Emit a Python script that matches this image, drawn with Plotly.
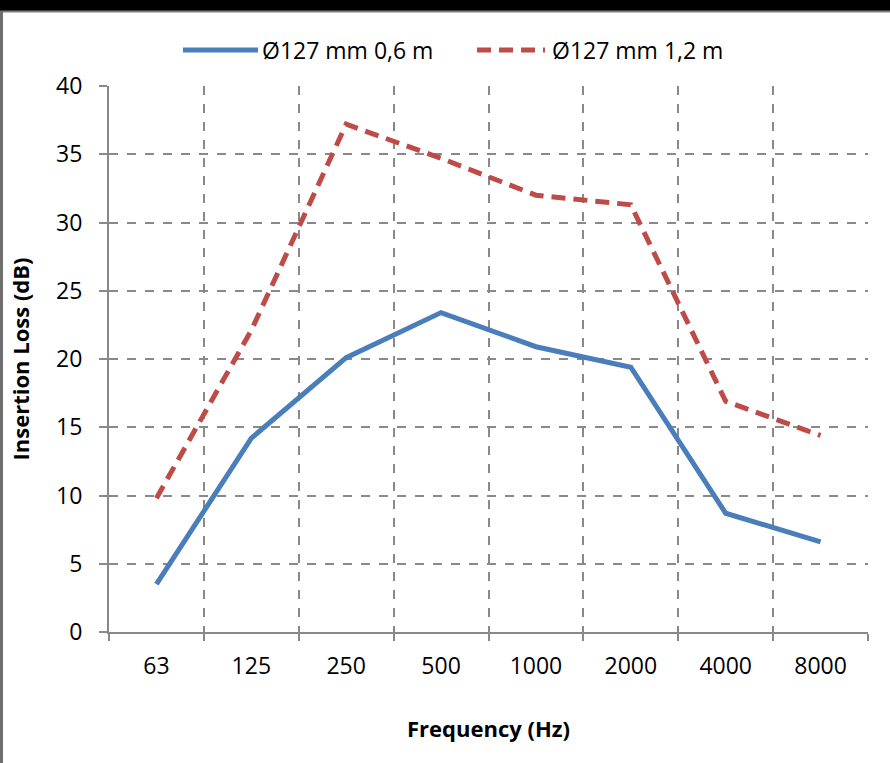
import plotly.graph_objects as go

# Frequency bands (Hz) and insertion loss (dB)
freqs = ["63", "125", "250", "500", "1000", "2000", "4000", "8000"]
loss_06 = [3.5, 14.2, 20.1, 23.4, 20.9, 19.4, 8.7, 6.6]
loss_12 = [9.8, 22.1, 37.2, 34.7, 32.0, 31.3, 16.9, 14.4]

names = ["Ø127 mm 0,6 m", "Ø127 mm 1,2 m"]
colors = ["#4A7EBB", "#BE4B48"]
dashes = ["solid", "14px,8px"]

W, H = 890, 763
L, R, T, B = 109, 22, 86, 131
pw, ph = W - L - R, H - T - B


def px(x):
    return (x - L) / pw


def py(y):
    return (H - B - y) / ph


font = "Open Sans"
grid = "#898989"

fig = go.Figure()
for vals, name, c, d in zip([loss_06, loss_12], names, colors, dashes):
    fig.add_trace(go.Scatter(x=freqs, y=vals, name=name, mode="lines",
                             line=dict(color=c, width=5, dash=d),
                             showlegend=False))

fig.update_xaxes(
    type="category", tickson="boundaries", showgrid=True, griddash="dash",
    gridcolor=grid, gridwidth=1.5, showline=True, linecolor=grid, linewidth=2,
    ticks="outside", ticklen=7, tickwidth=2, tickcolor=grid,
    tickfont=dict(family=font, size=23, color="black"), ticklabelstandoff=12,
    title=dict(text="<b>Frequency (Hz)</b>", standoff=42,
               font=dict(family=font, size=22, color="black")),
    range=[-0.5, 7.5], fixedrange=True,
)
fig.update_yaxes(
    range=[0, 40], dtick=5, showgrid=True, griddash="dash", gridcolor=grid,
    gridwidth=1.5, showline=True, linecolor=grid, linewidth=2, zeroline=False,
    ticks="outside", ticklen=8, tickwidth=2, tickcolor=grid,
    tickfont=dict(family=font, size=23, color="black"), ticklabelstandoff=12,
    title=dict(text="<b>Insertion Loss (dB)</b>", standoff=20,
               font=dict(family=font, size=22, color="black")),
)

shapes = [
    # black bar at the top of the frame
    dict(type="rect", xref="paper", yref="paper", x0=px(-5), x1=px(W + 5),
         y0=py(11), y1=py(-5), fillcolor="black", line=dict(width=0)),
    dict(type="line", xref="paper", yref="paper", x0=px(0), x1=px(W),
         y0=py(11.5), y1=py(11.5), line=dict(color="#7f7f7f", width=2)),
    dict(type="line", xref="paper", yref="paper", x0=px(1.5), x1=px(1.5),
         y0=py(11), y1=py(H), line=dict(color="#6f6f6f", width=3)),
]

# legend drawn by hand so the key lines have the reference's length
annotations = []
for (x0, x1, tx), name, c, d in zip([(183, 258, 260), (477, 545, 550)],
                                    names, colors, dashes):
    shapes.append(dict(type="line", xref="paper", yref="paper",
                       x0=px(x0), x1=px(x1), y0=py(50), y1=py(50),
                       line=dict(color=c, width=5, dash=d)))
    annotations.append(dict(xref="paper", yref="paper", x=px(tx), y=py(50),
                            xanchor="left", yanchor="middle", showarrow=False,
                            text=name, font=dict(family=font, size=23,
                                                 color="black")))

fig.update_layout(
    width=W, height=H, margin=dict(l=L, r=R, t=T, b=B),
    paper_bgcolor="white", plot_bgcolor="white",
    font=dict(family=font, color="black"),
    shapes=shapes, annotations=annotations,
)

fig.write_html("out.html", config={"displayModeBar": False},
               post_script="document.body.style.margin='0';")
